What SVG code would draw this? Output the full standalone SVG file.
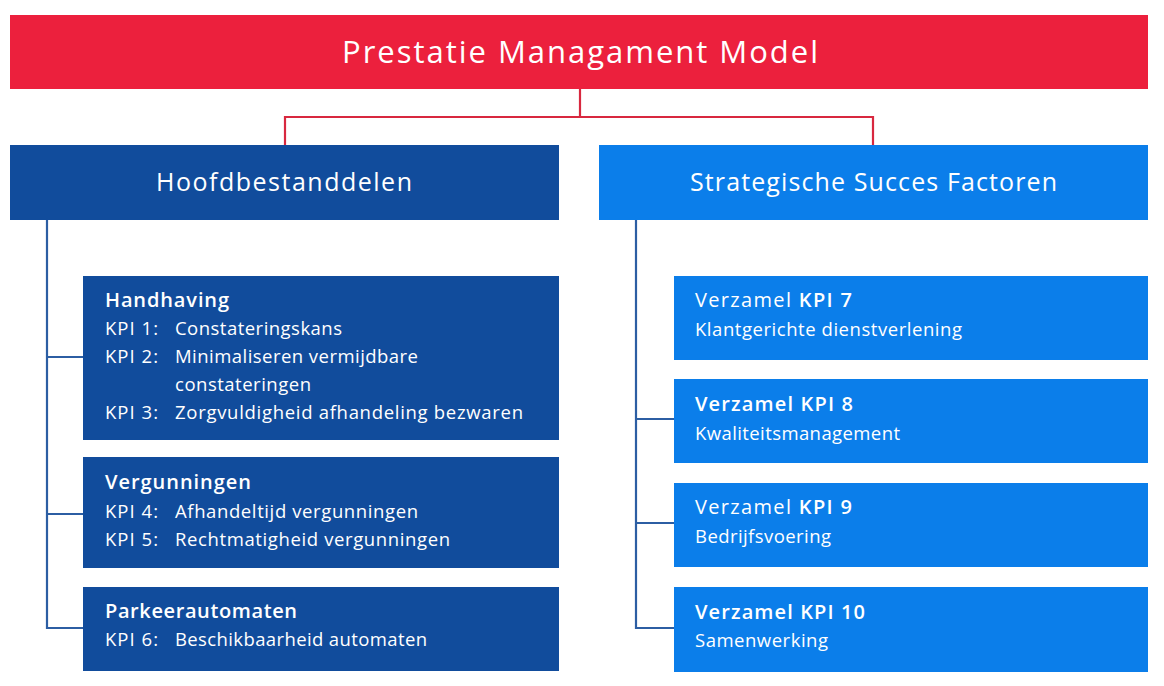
<svg xmlns="http://www.w3.org/2000/svg" width="1164" height="686" viewBox="0 0 1164 686">
  <style>
    text { font-family: "Open Sans", "Noto Sans", "DejaVu Sans", sans-serif; fill: #ffffff; }
    .title { font-size: 31px; }
    .head { font-size: 25px; }
    .sub { font-size: 20px; font-weight: 600; }
    .body { font-size: 18.5px; }
    .red { fill: #ec203d; }
    .dark { fill: #114c9c; }
    .bright { fill: #0b7eea; }
    .link-red { stroke: #d8283f; stroke-width: 2.2; fill: none; }
    .link-blue { stroke: #2c5ea3; stroke-width: 2.2; fill: none; }
  </style>
  <rect width="1164" height="686" fill="#ffffff"/>

  <!-- connectors -->
  <g id="connectors">
    <path class="link-red" d="M580,89 V117 M285,117 H873 M285,116 V145 M873,116 V145"/>
    <path class="link-blue" d="M47,220 V629 M46,357 H83 M46,514 H83 M46,628 H83"/>
    <path class="link-blue" d="M636,220 V629 M635,419 H674 M635,523 H674 M635,628 H674"/>
  </g>

  <!-- root -->
  <g id="node-model">
    <rect class="red" x="10" y="15" width="1138" height="74"/>
    <text class="title" x="342" y="63" textLength="476" lengthAdjust="spacing">Prestatie Managament Model</text>
  </g>

  <!-- level 1 -->
  <g id="node-hoofdbestanddelen">
    <rect class="dark" x="10" y="145" width="549" height="75"/>
    <text class="head" x="156" y="191" textLength="256" lengthAdjust="spacing">Hoofdbestanddelen</text>
  </g>
  <g id="node-ssf">
    <rect class="bright" x="599" y="145" width="549" height="75"/>
    <text class="head" x="690" y="191" textLength="367" lengthAdjust="spacing">Strategische Succes Factoren</text>
  </g>

  <!-- left column -->
  <g id="node-handhaving">
    <rect class="dark" x="83" y="276" width="476" height="164"/>
    <text class="sub" x="105" y="307" textLength="124" lengthAdjust="spacing">Handhaving</text>
    <text class="body" x="105" y="335" textLength="53" lengthAdjust="spacing">KPI 1:</text>
    <text class="body" x="175" y="335" textLength="167" lengthAdjust="spacing">Constateringskans</text>
    <text class="body" x="105" y="363" textLength="53" lengthAdjust="spacing">KPI 2:</text>
    <text class="body" x="175" y="363" textLength="243" lengthAdjust="spacing">Minimaliseren vermijdbare</text>
    <text class="body" x="175" y="391" textLength="136" lengthAdjust="spacing">constateringen</text>
    <text class="body" x="105" y="419" textLength="53" lengthAdjust="spacing">KPI 3:</text>
    <text class="body" x="175" y="419" textLength="348" lengthAdjust="spacing">Zorgvuldigheid afhandeling bezwaren</text>
  </g>
  <g id="node-vergunningen">
    <rect class="dark" x="83" y="457" width="476" height="111"/>
    <text class="sub" x="105" y="489" textLength="146" lengthAdjust="spacing">Vergunningen</text>
    <text class="body" x="105" y="518" textLength="53" lengthAdjust="spacing">KPI 4:</text>
    <text class="body" x="175" y="518" textLength="243" lengthAdjust="spacing">Afhandeltijd vergunningen</text>
    <text class="body" x="105" y="546" textLength="53" lengthAdjust="spacing">KPI 5:</text>
    <text class="body" x="175" y="546" textLength="275" lengthAdjust="spacing">Rechtmatigheid vergunningen</text>
  </g>
  <g id="node-parkeerautomaten">
    <rect class="dark" x="83" y="587" width="476" height="84"/>
    <text class="sub" x="105" y="618" textLength="192" lengthAdjust="spacing">Parkeerautomaten</text>
    <text class="body" x="105" y="646" textLength="53" lengthAdjust="spacing">KPI 6:</text>
    <text class="body" x="175" y="646" textLength="252" lengthAdjust="spacing">Beschikbaarheid automaten</text>
  </g>

  <!-- right column -->
  <g id="node-kpi7">
    <rect class="bright" x="674" y="276" width="474" height="84"/>
    <text class="sub" x="695" y="307" textLength="157" lengthAdjust="spacing"><tspan font-weight="400">Verzamel </tspan>KPI 7</text>
    <text class="body" x="695" y="336" textLength="267" lengthAdjust="spacing">Klantgerichte dienstverlening</text>
  </g>
  <g id="node-kpi8">
    <rect class="bright" x="674" y="379" width="474" height="84"/>
    <text class="sub" x="695" y="411" textLength="158" lengthAdjust="spacing">Verzamel KPI 8</text>
    <text class="body" x="695" y="440" textLength="205" lengthAdjust="spacing">Kwaliteitsmanagement</text>
  </g>
  <g id="node-kpi9">
    <rect class="bright" x="674" y="483" width="474" height="84"/>
    <text class="sub" x="695" y="514" textLength="157" lengthAdjust="spacing"><tspan font-weight="400">Verzamel </tspan>KPI 9</text>
    <text class="body" x="695" y="543" textLength="136" lengthAdjust="spacing">Bedrijfsvoering</text>
  </g>
  <g id="node-kpi10">
    <rect class="bright" x="674" y="587" width="474" height="85"/>
    <text class="sub" x="695" y="619" textLength="170" lengthAdjust="spacing">Verzamel KPI 10</text>
    <text class="body" x="695" y="647" textLength="133" lengthAdjust="spacing">Samenwerking</text>
  </g>
</svg>
